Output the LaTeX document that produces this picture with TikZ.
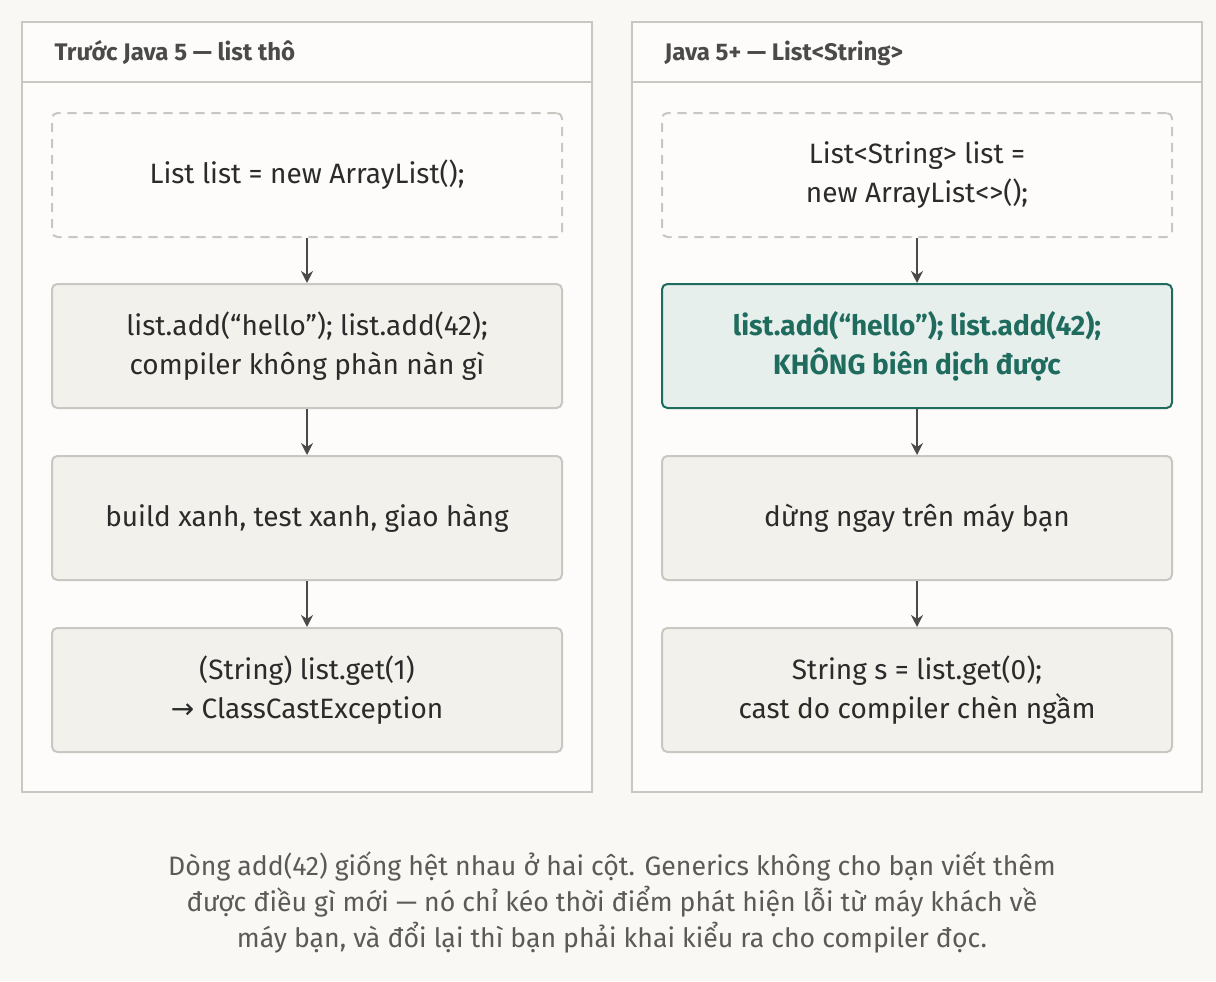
\documentclass[tikz,border=0pt]{standalone}
\usepackage{fontspec}
\setmainfont{Fira Sans}
\newfontfamily\symfont{DejaVu Sans}
\usetikzlibrary{positioning,arrows.meta}
\definecolor{bgc}{HTML}{F9F8F4}
\definecolor{panelc}{HTML}{FDFCFA}
\definecolor{linec}{HTML}{C8C7C2}
\definecolor{boxc}{HTML}{F2F1EC}
\definecolor{inkc}{HTML}{2B2B2B}
\definecolor{headc}{HTML}{4A4A48}
\definecolor{tealc}{HTML}{1F6B5E}
\definecolor{tealf}{HTML}{E7EFEC}
\definecolor{capc}{HTML}{5A5A57}
\tikzset{
  stage/.style={draw=linec, line width=1.5pt, fill=boxc, rounded corners=4pt,
    minimum width=382.5pt, minimum height=93pt, align=center, text=inkc,
    font=\fontsize{21}{29}\selectfont},
  start/.style={stage, dash pattern=on 7pt off 5pt, fill=panelc},
  hot/.style={stage, draw=tealc, fill=tealf, text=tealc, font=\fontsize{21}{29}\selectfont\bfseries},
  flow/.style={-{Stealth[length=9pt,width=9pt]}, draw=headc, line width=1.5pt},
  head/.style={anchor=west, text=headc, font=\fontsize{18}{20}\selectfont\bfseries}
}
\begin{document}
\begin{tikzpicture}[x=0.75pt,y=-0.75pt]
\fill[bgc] (0,0) rectangle (1216,981);

% left column
\draw[linec, line width=1.5pt, fill=panelc] (22,22) rectangle (592,792);
\draw[linec, line width=1.5pt] (22,82) -- (592,82);
\node[head] (lhead) at (50,53) {Trước Java 5 — list thô};
\node[start] (l1) at (307,175) {List list = new ArrayList();};
\node[stage] (l2) at (307,346) {list.add(“hello”); list.add(42);\\compiler không phàn nàn gì};
\node[stage] (l3) at (307,518) {build xanh, test xanh, giao hàng};
\node[stage] (l4) at (307,690) {(String) list.get(1)\\{\symfont →} ClassCastException};
\draw[flow] (l1) -- (l2);
\draw[flow] (l2) -- (l3);
\draw[flow] (l3) -- (l4);

% right column
\draw[linec, line width=1.5pt, fill=panelc] (632,22) rectangle (1202,792);
\draw[linec, line width=1.5pt] (632,82) -- (1202,82);
\node[head] (rhead) at (660,53) {Java 5+ — List<String>};
\node[start] (r1) at (917,175) {List<String> list =\\new ArrayList<>();};
\node[hot] (r2) at (917,346) {list.add(“hello”); list.add(42);\\KHÔNG biên dịch được};
\node[stage] (r3) at (917,518) {dừng ngay trên máy bạn};
\node[stage] (r4) at (917,690) {String s = list.get(0);\\cast do compiler chèn ngầm};
\draw[flow] (r1) -- (r2);
\draw[flow] (r2) -- (r3);
\draw[flow] (r3) -- (r4);

\node[align=center, text=capc, font=\fontsize{20}{27}\selectfont] (note) at (612,902)
  {Dòng add(42) giống hệt nhau ở hai cột. Generics không cho bạn viết thêm\\
   được điều gì mới — nó chỉ kéo thời điểm phát hiện lỗi từ máy khách về\\
   máy bạn, và đổi lại thì bạn phải khai kiểu ra cho compiler đọc.};
\end{tikzpicture}
\end{document}
